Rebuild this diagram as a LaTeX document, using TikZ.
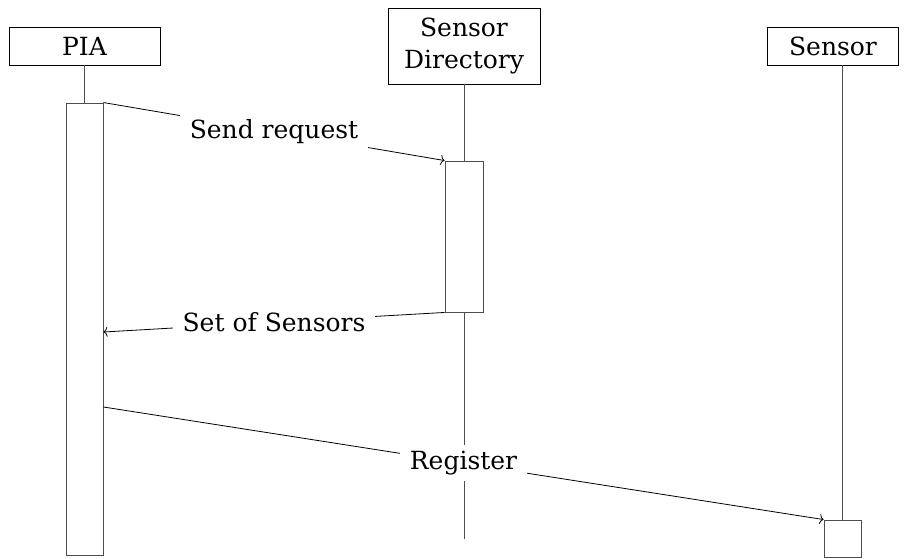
\documentclass[tikz,border=0pt]{standalone}
\usepackage{fontspec}
\setmainfont{DejaVu Serif}
\usetikzlibrary{arrows.meta}
\begin{document}
\begin{tikzpicture}[x=1pt,y=-1pt,
  every node/.style={font=\fontsize{25}{32}\selectfont, inner sep=0pt},
  head/.style={draw=black, line width=0.9pt, rectangle, align=center},
  act/.style={draw=black!70, line width=0.9pt, rectangle, fill=white},
  life/.style={draw=black!70, line width=0.9pt},
  msg/.style={draw=black, line width=0.8pt, -{To[length=4pt,width=10pt]}},
  lbl/.style={fill=white, inner xsep=10pt, inner ysep=6pt}]
\useasboundingbox (0,0) rectangle (907,559);
% headers
\node[head, minimum width=151pt, minimum height=38pt] (pia) at (84.5,46) {PIA};
\node[head, minimum width=152pt, minimum height=76pt] (sd) at (464,46) {Sensor\\Directory};
\node[head, minimum width=131pt, minimum height=38pt] (sen) at (833,46) {Sensor};
% activations
\node[act, minimum width=37pt, minimum height=452pt] (piaAct) at (84.5,329) {};
\node[act, minimum width=38pt, minimum height=151pt] (sdAct) at (464,236.5) {};
\node[act, minimum width=37pt, minimum height=37pt] (senAct) at (842.5,538.5) {};
% lifelines
\coordinate (sdEnd) at (464,539);
\draw[life] (pia.south -| piaAct.north) -- (piaAct.north);
\draw[life] (sd.south) -- (sdAct.north);
\draw[life] (sdAct.south) -- (sdEnd);
\draw[life] (sen.south -| senAct.north) -- (senAct.north);
% messages
\coordinate (setEnd) at (103.5,332);
\coordinate (regStart) at (103.5,407);
\draw[msg] (piaAct.north east) -- node[lbl] (m1) {Send request} (sdAct.north west);
\draw[msg] (sdAct.south west) -- node[lbl] (m2) {Set of Sensors} (setEnd);
\draw[msg] (regStart) -- node[lbl] (m3) {Register} (senAct.north west);
\end{tikzpicture}
\end{document}
